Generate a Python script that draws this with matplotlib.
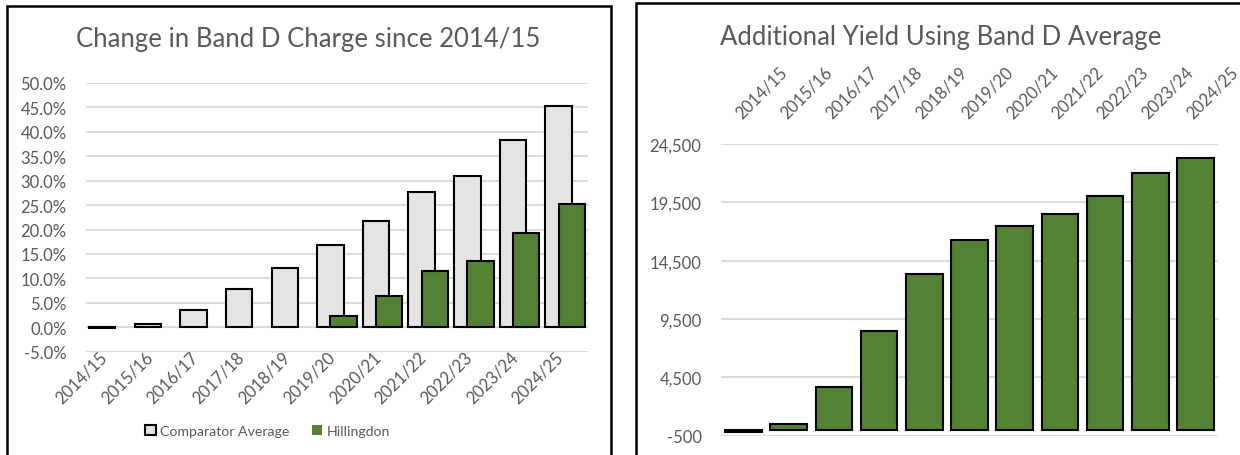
import numpy as np
import matplotlib
matplotlib.use("Agg")
from matplotlib import pyplot as plt
from matplotlib.patches import Rectangle
from matplotlib.ticker import FuncFormatter
from matplotlib.transforms import ScaledTranslation

years = ["2014/15", "2015/16", "2016/17", "2017/18", "2018/19", "2019/20",
         "2020/21", "2021/22", "2022/23", "2023/24", "2024/25"]
comparator = [-0.1, 0.6, 3.6, 7.9, 12.2, 16.9, 21.7, 27.6, 30.9, 38.3, 45.2]
hillingdon = [0.0, 0.0, 0.0, 0.0, 0.0, 2.4, 6.3, 11.5, 13.5, 19.2, 25.2]
yield_vals = [-150, 500, 3700, 8500, 13350, 16300, 17450, 18480, 20050, 22000, 23280]

pct_ticks = np.arange(-5, 50.1, 5)
yield_ticks = np.arange(-500, 24501, 5000)

txt = "#595959"
grid = "#d9d9d9"
green = "#548235"
light = "#e4e4e4"
plt.rcParams['font.family'] = ['Lato', 'DejaVu Sans']

W, H = 1240, 456
fig = plt.figure(figsize=(W / 100, H / 100), dpi=100)

# panel borders
fig.patches.append(Rectangle((7 / W, -0.1), 603.7 / W, 1.1 - 7 / H, transform=fig.transFigure,
                             fill=False, ec="black", lw=1.8))
fig.patches.append(Rectangle((636 / W, -0.1), 1.0, 1.1 - 4 / H, transform=fig.transFigure,
                             fill=False, ec="black", lw=1.8))

# left chart
ax1 = fig.add_axes([86 / W, 1 - 352.7 / H, 502 / W, 268.7 / H])
x = np.arange(len(years))
lw_h = [1.5 if v != 0 else 0 for v in hillingdon]
ax1.bar(x - 0.145, comparator, 0.58, color=light, edgecolor="black", linewidth=1.5,
        label="Comparator Average", zorder=2)
ax1.bar(x + 0.145, hillingdon, 0.58, color=green, edgecolor="black", linewidth=lw_h,
        label="Hillingdon", zorder=3)
ax1.set_ylim(-5, 50)
ax1.set_xlim(-0.5, len(years) - 0.5)
ax1.set_yticks(pct_ticks)
ax1.yaxis.set_major_formatter(FuncFormatter(lambda v, p: f"{v:.1f}%"))
ax1.set_xticks(x)
ax1.set_xticklabels(years, rotation=45, ha="right", va="top", rotation_mode="anchor")
ax1.grid(axis="y", color=grid, linewidth=1.3, zorder=0)
ax1.tick_params(axis="both", length=0, labelsize=12, labelcolor=txt)
ax1.tick_params(axis="y", pad=14)
ax1.tick_params(axis="x", pad=0)
# nudge the rotated labels up-left so their ends sit at the bottom gridline
shift = ScaledTranslation(-10 / 100, 3 / 100, fig.dpi_scale_trans)
for lab in ax1.get_xticklabels():
    lab.set_transform(lab.get_transform() + shift)
for s in ax1.spines.values():
    s.set_visible(False)
fig.text(308 / W, 1 - 40 / H, "Change in Band D Charge since 2014/15", ha="center", va="center",
         fontsize=18.5, color=txt)
fig.legend(*ax1.get_legend_handles_labels(), loc="center", bbox_to_anchor=(267.5 / W, 1 - 432 / H),
           ncol=2, frameon=False, fontsize=10.2, labelcolor=txt, handlelength=0.75, handleheight=0.75,
           handletextpad=0.3, columnspacing=1.6)

# right chart
ax2 = fig.add_axes([721 / W, 1 - 436.7 / H, 497 / W, 291.7 / H])
ax2.bar(x, yield_vals, 0.81, color=green, edgecolor="black", linewidth=1.5, zorder=2)
ax2.set_ylim(-500, 24500)
ax2.set_xlim(-0.5, len(years) - 0.5)
ax2.set_yticks(yield_ticks)
ax2.yaxis.set_major_formatter(FuncFormatter(lambda v, p: f"{v:,.0f}"))
ax2.xaxis.tick_top()
ax2.set_xticks(x)
ax2.set_xticklabels(years, rotation=45, ha="left", va="bottom", rotation_mode="anchor")
ax2.grid(axis="y", color=grid, linewidth=1.3, zorder=0)
ax2.tick_params(axis="both", length=0, labelsize=12, labelcolor=txt)
ax2.tick_params(axis="y", pad=14)
ax2.tick_params(axis="x", pad=17)
for s in ax2.spines.values():
    s.set_visible(False)
fig.text(720 / W, 1 - 38 / H, "Additional Yield Using Band D Average", ha="left", va="center",
         fontsize=18.5, color=txt)

fig.savefig("out.png", dpi=100)
